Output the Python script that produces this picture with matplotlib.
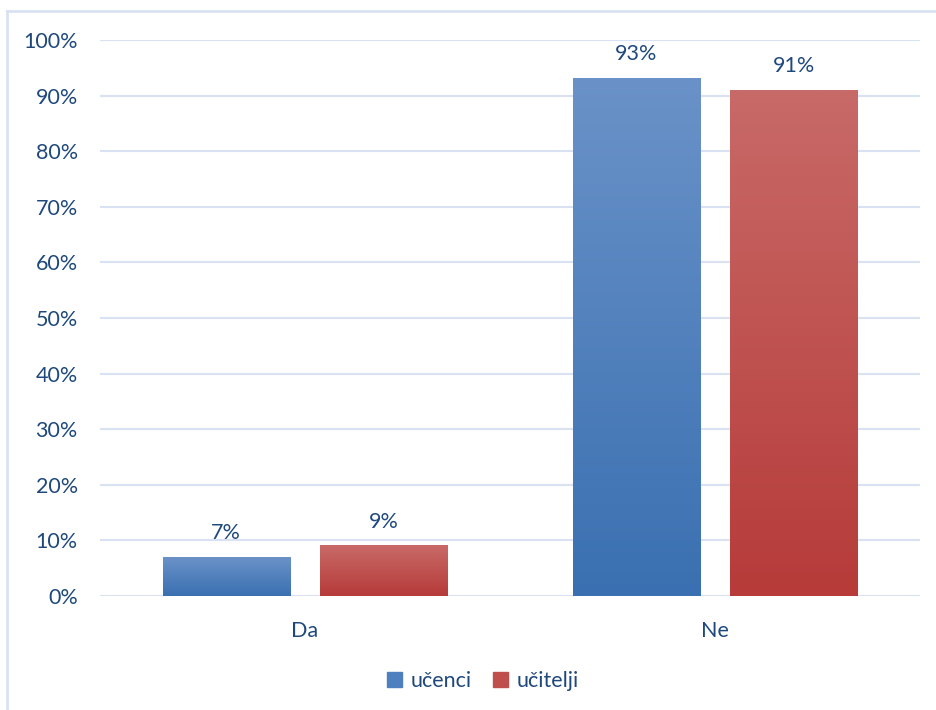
import numpy as np
import matplotlib.pyplot as plt
from matplotlib.colors import LinearSegmentedColormap
from matplotlib.lines import Line2D
from matplotlib.patches import Patch

# podaci
kategorije = ["Da", "Ne"]
ucenci = [7, 93]
ucitelji = [9, 91]
serije = ["učenci", "učitelji"]

plt.rcParams['font.family'] = ['Lato', 'DejaVu Sans']
txt = "#1F497D"
grid_c = "#D9E2F3"

plavi = LinearSegmentedColormap.from_list("plavi", ["#3A70B1", "#6A92C8"])
crveni = LinearSegmentedColormap.from_list("crveni", ["#B63B39", "#C86A68"])

fig = plt.figure(figsize=(9.37, 7.10), dpi=100)
ax = fig.add_axes([100/937, 1 - 596/710, 820/937, 556/710])

x = np.arange(len(kategorije))
w = 0.31
off = 0.192
grad = np.linspace(0, 1, 256).reshape(-1, 1)

for vals, dx, cmap in [(ucenci, -off, plavi), (ucitelji, off, crveni)]:
    bars = ax.bar(x + dx, vals, w, color="none", zorder=3)
    for b, v in zip(bars, vals):
        x0 = b.get_x()
        ax.imshow(grad, cmap=cmap, aspect="auto", origin="lower",
                  extent=[x0, x0 + w, 0, v], zorder=3)
        ax.text(x0 + w / 2, v + 2.6, f"{v}%", ha="center", va="bottom",
                fontsize=15.5, color=txt)

ax.set_xlim(-0.5, 1.5)
ax.set_ylim(0, 100)
ax.set_yticks(range(0, 101, 10))
ax.set_yticklabels([f"{t}%" for t in range(0, 101, 10)])
ax.set_xticks(x)
ax.set_xticklabels(kategorije)
ax.tick_params(length=0, labelsize=15.5, labelcolor=txt)
ax.tick_params(axis="y", pad=16)
ax.tick_params(axis="x", pad=18)
ax.grid(axis="y", color=grid_c, linewidth=1.5, zorder=0)
for s in ax.spines.values():
    s.set_visible(False)

handles = [Patch(color="#4E7FBF"), Patch(color="#BF4F4D")]
fig.legend(handles, serije, loc="center", bbox_to_anchor=(483/937, 1 - 681/710),
           ncol=2, frameon=False, fontsize=15.5, handlelength=0.7, handleheight=0.7,
           handletextpad=0.4, columnspacing=1.0, labelcolor=txt)

# okvir
fig.add_artist(Line2D([7.5/937, 7.5/937], [0, 1 - 11/710], color=grid_c, lw=2,
                      transform=fig.transFigure))
fig.add_artist(Line2D([7.5/937, 1], [1 - 11/710, 1 - 11/710], color=grid_c, lw=2,
                      transform=fig.transFigure))

fig.savefig("out.png", dpi=100)
